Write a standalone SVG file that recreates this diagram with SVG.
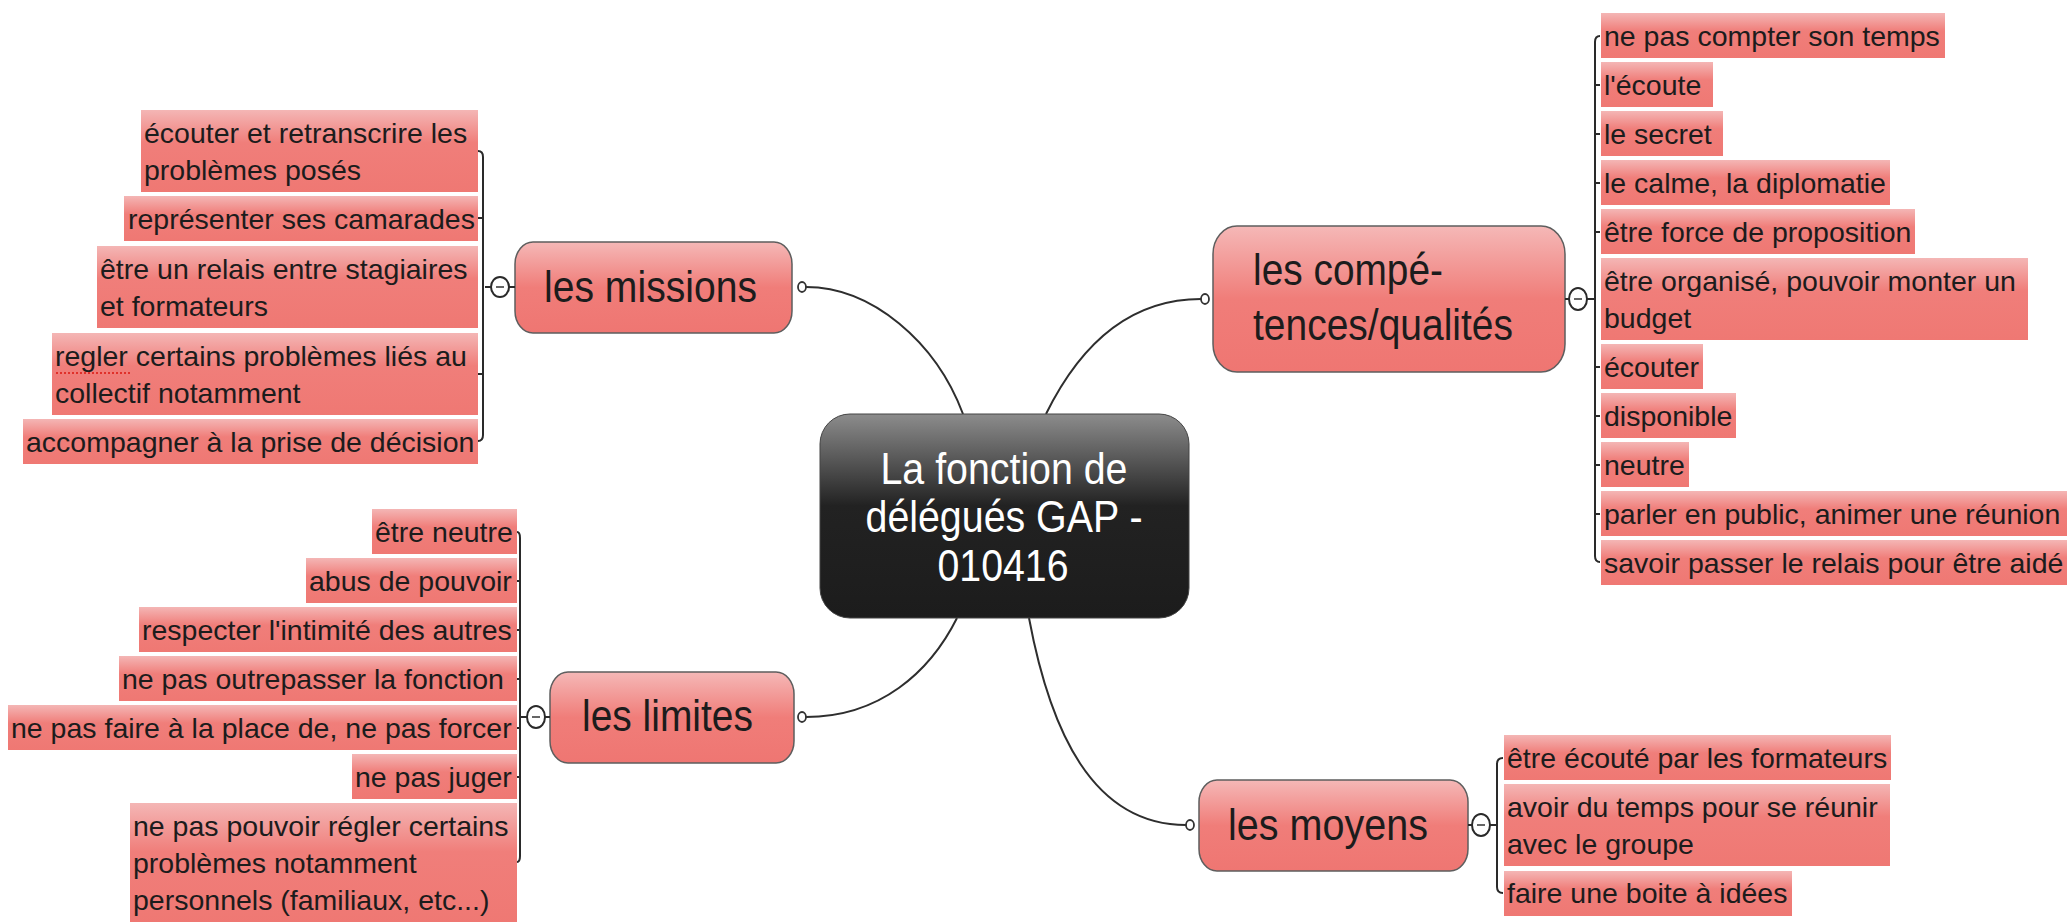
<svg xmlns="http://www.w3.org/2000/svg" width="2067" height="922" viewBox="0 0 2067 922">
<defs>
<linearGradient id="gNode" x1="0" y1="0" x2="0" y2="1">
<stop offset="0" stop-color="#f5b8b7"/>
<stop offset="0.5" stop-color="#f07d79"/>
<stop offset="1" stop-color="#ef7672"/>
</linearGradient>
<linearGradient id="gLeaf" x1="0" y1="0" x2="0" y2="1">
<stop offset="0" stop-color="#f4b6b5"/>
<stop offset="0.4" stop-color="#f07e7a"/>
<stop offset="1" stop-color="#ef7873"/>
</linearGradient>
<linearGradient id="gCenter" x1="0" y1="0" x2="0" y2="1">
<stop offset="0" stop-color="#8c8c8c"/>
<stop offset="0.45" stop-color="#222"/>
<stop offset="1" stop-color="#1c1c1c"/>
</linearGradient>
</defs>
<style>
.leaf{fill:url(#gLeaf)}
.lt{font-family:"Liberation Sans",Arial,sans-serif;font-size:28.5px;fill:#1c1c1c}
.node{fill:url(#gNode);stroke:#5e5e5e;stroke-width:1.5}
.nt{font-family:"Liberation Sans",Arial,sans-serif;font-size:44px;fill:#1c1c1c}
.ct{font-family:"Liberation Sans",Arial,sans-serif;font-size:44px;fill:#ffffff;text-anchor:middle}
.br{fill:none;stroke:#2a2a2a;stroke-width:2}
.con{fill:none;stroke:#2e2e2e;stroke-width:2}
.dot{fill:#fff;stroke:#333;stroke-width:1.8}
.col{fill:#fff;stroke:#2a2a2a;stroke-width:2}
.minus{stroke:#666;stroke-width:2}
</style>
<rect width="2067" height="922" fill="#ffffff"/>

<g id="connectors">
<path class="con" d="M806 287 C872 287 936 342 963 414"/>
<path class="con" d="M1046 414 C1080 345 1130 299 1201 299"/>
<path class="con" d="M957 618 C930 672 880 717 806 717"/>
<path class="con" d="M1029 618 C1050 730 1092 825 1186 825"/>
</g>

<g id="central">
<rect x="820" y="414" width="369" height="204" rx="30" ry="30" fill="url(#gCenter)" stroke="#444" stroke-width="1"/>
<text class="ct" x="1004" y="484" textLength="247" lengthAdjust="spacingAndGlyphs">La fonction de</text>
<text class="ct" x="1004" y="532" textLength="277" lengthAdjust="spacingAndGlyphs">délégués GAP -</text>
<text class="ct" x="1003" y="581" textLength="131" lengthAdjust="spacingAndGlyphs">010416</text>
</g>

<g id="missions">
<rect class="node" x="515" y="242" width="277" height="91" rx="18" ry="22"/>
<text class="nt" x="544" y="302" textLength="213" lengthAdjust="spacingAndGlyphs">les missions</text>
<ellipse class="dot" cx="802" cy="287" rx="4" ry="5"/>
<line class="br" x1="485" y1="287" x2="491" y2="287"/>
<line class="br" x1="509" y1="287" x2="515" y2="287"/>
<ellipse class="col" cx="500" cy="287" rx="9" ry="10"/>
<line class="minus" x1="496" y1="287" x2="504" y2="287"/>
<path class="br" d="M478 151 Q483 151 483 157 L483 435 Q483 441 478 441 M478 218 H483 M478 374 H483"/>
<g id="m1"><rect class="leaf" x="141" y="110" width="337" height="82"/><text class="lt" x="144" y="143">écouter et retranscrire les</text><text class="lt" x="144" y="180">problèmes posés</text></g>
<g id="m2"><rect class="leaf" x="124" y="196" width="354" height="45"/><text class="lt" x="128" y="229">représenter ses camarades</text></g>
<g id="m3"><rect class="leaf" x="97" y="246" width="381" height="82"/><text class="lt" x="100" y="279">être un relais entre stagiaires</text><text class="lt" x="100" y="316">et formateurs</text></g>
<g id="m4"><rect class="leaf" x="52" y="333" width="426" height="82"/><text class="lt" x="55" y="366">regler certains problèmes liés au</text><text class="lt" x="55" y="403">collectif notamment</text><line x1="56" y1="373" x2="131" y2="373" stroke="#e0302a" stroke-width="2" stroke-dasharray="2 2"/></g>
<g id="m5"><rect class="leaf" x="23" y="419" width="455" height="45"/><text class="lt" x="26" y="452">accompagner à la prise de décision</text></g>
</g>

<g id="limites">
<rect class="node" x="550" y="672" width="244" height="91" rx="18" ry="22"/>
<text class="nt" x="582" y="731" textLength="171" lengthAdjust="spacingAndGlyphs">les limites</text>
<ellipse class="dot" cx="802" cy="717" rx="4" ry="5"/>
<line class="br" x1="520" y1="717" x2="527" y2="717"/>
<line class="br" x1="545" y1="717" x2="550" y2="717"/>
<ellipse class="col" cx="536" cy="717" rx="9" ry="11"/>
<line class="minus" x1="532" y1="717" x2="540" y2="717"/>
<path class="br" d="M517 532 Q520 532 520 538 L520 856 Q520 862 517 862 M517 581 H520 M517 630 H520 M517 679 H520 M517 728 H520 M517 777 H520"/>
<g id="l1"><rect class="leaf" x="372" y="509" width="145" height="45"/><text class="lt" x="375" y="542">être neutre</text></g>
<g id="l2"><rect class="leaf" x="306" y="558" width="211" height="45"/><text class="lt" x="309" y="591">abus de pouvoir</text></g>
<g id="l3"><rect class="leaf" x="139" y="607" width="378" height="45"/><text class="lt" x="142" y="640">respecter l'intimité des autres</text></g>
<g id="l4"><rect class="leaf" x="119" y="656" width="398" height="45"/><text class="lt" x="122" y="689">ne pas outrepasser la fonction </text></g>
<g id="l5"><rect class="leaf" x="8" y="705" width="509" height="45"/><text class="lt" x="11" y="738">ne pas faire à la place de, ne pas forcer</text></g>
<g id="l6"><rect class="leaf" x="352" y="754" width="165" height="45"/><text class="lt" x="355" y="787">ne pas juger</text></g>
<g id="l7"><rect class="leaf" x="130" y="803" width="387" height="122"/><text class="lt" x="133" y="836">ne pas pouvoir régler certains</text><text class="lt" x="133" y="873">problèmes notamment</text><text class="lt" x="133" y="910">personnels (familiaux, etc...)</text></g>
</g>

<g id="competences">
<rect class="node" x="1213" y="226" width="352" height="146" rx="24" ry="28"/>
<text class="nt" x="1253" y="285" textLength="190" lengthAdjust="spacingAndGlyphs">les compé-</text>
<text class="nt" x="1253" y="340" textLength="260" lengthAdjust="spacingAndGlyphs">tences/qualités</text>
<ellipse class="dot" cx="1205" cy="299" rx="4" ry="5"/>
<line class="br" x1="1565" y1="299" x2="1569" y2="299"/>
<line class="br" x1="1587" y1="299" x2="1595" y2="299"/>
<ellipse class="col" cx="1578" cy="299" rx="9" ry="11"/>
<line class="minus" x1="1574" y1="299" x2="1582" y2="299"/>
<path class="br" d="M1600 36 Q1595 36 1595 42 L1595 556 Q1595 562 1600 562 M1595 85 H1600 M1595 134 H1600 M1595 183 H1600 M1595 232 H1600 M1595 367 H1600 M1595 416 H1600 M1595 465 H1600 M1595 514 H1600"/>
<g id="c1"><rect class="leaf" x="1601" y="13" width="344" height="45"/><text class="lt" x="1604" y="46">ne pas compter son temps</text></g>
<g id="c2"><rect class="leaf" x="1601" y="62" width="112" height="45"/><text class="lt" x="1604" y="95">l'écoute</text></g>
<g id="c3"><rect class="leaf" x="1601" y="111" width="122" height="45"/><text class="lt" x="1604" y="144">le secret</text></g>
<g id="c4"><rect class="leaf" x="1601" y="160" width="289" height="45"/><text class="lt" x="1604" y="193">le calme, la diplomatie</text></g>
<g id="c5"><rect class="leaf" x="1601" y="209" width="314" height="45"/><text class="lt" x="1604" y="242">être force de proposition</text></g>
<g id="c6"><rect class="leaf" x="1601" y="258" width="427" height="82"/><text class="lt" x="1604" y="291">être organisé, pouvoir monter un</text><text class="lt" x="1604" y="328">budget</text></g>
<g id="c7"><rect class="leaf" x="1601" y="344" width="102" height="45"/><text class="lt" x="1604" y="377">écouter</text></g>
<g id="c8"><rect class="leaf" x="1601" y="393" width="135" height="45"/><text class="lt" x="1604" y="426">disponible</text></g>
<g id="c9"><rect class="leaf" x="1601" y="442" width="88" height="45"/><text class="lt" x="1604" y="475">neutre</text></g>
<g id="c10"><rect class="leaf" x="1601" y="491" width="470" height="45"/><text class="lt" x="1604" y="524">parler en public, animer une réunion</text></g>
<g id="c11"><rect class="leaf" x="1601" y="540" width="470" height="45"/><text class="lt" x="1604" y="573">savoir passer le relais pour être aidé</text></g>
</g>

<g id="moyens">
<rect class="node" x="1199" y="780" width="269" height="91" rx="18" ry="22"/>
<text class="nt" x="1228" y="840" textLength="200" lengthAdjust="spacingAndGlyphs">les moyens</text>
<ellipse class="dot" cx="1190" cy="825" rx="4" ry="5"/>
<line class="br" x1="1468" y1="825" x2="1472" y2="825"/>
<line class="br" x1="1490" y1="825" x2="1497" y2="825"/>
<ellipse class="col" cx="1481" cy="825" rx="9" ry="11"/>
<line class="minus" x1="1477" y1="825" x2="1485" y2="825"/>
<path class="br" d="M1503 758 Q1497 758 1497 764 L1497 887 Q1497 893 1503 893"/>
<g id="y1"><rect class="leaf" x="1504" y="735" width="387" height="45"/><text class="lt" x="1507" y="768">être écouté par les formateurs</text></g>
<g id="y2"><rect class="leaf" x="1504" y="784" width="386" height="82"/><text class="lt" x="1507" y="817">avoir du temps pour se réunir</text><text class="lt" x="1507" y="854">avec le groupe</text></g>
<g id="y3"><rect class="leaf" x="1504" y="871" width="288" height="45"/><text class="lt" x="1507" y="903">faire une boite à idées</text></g>
</g>
</svg>
